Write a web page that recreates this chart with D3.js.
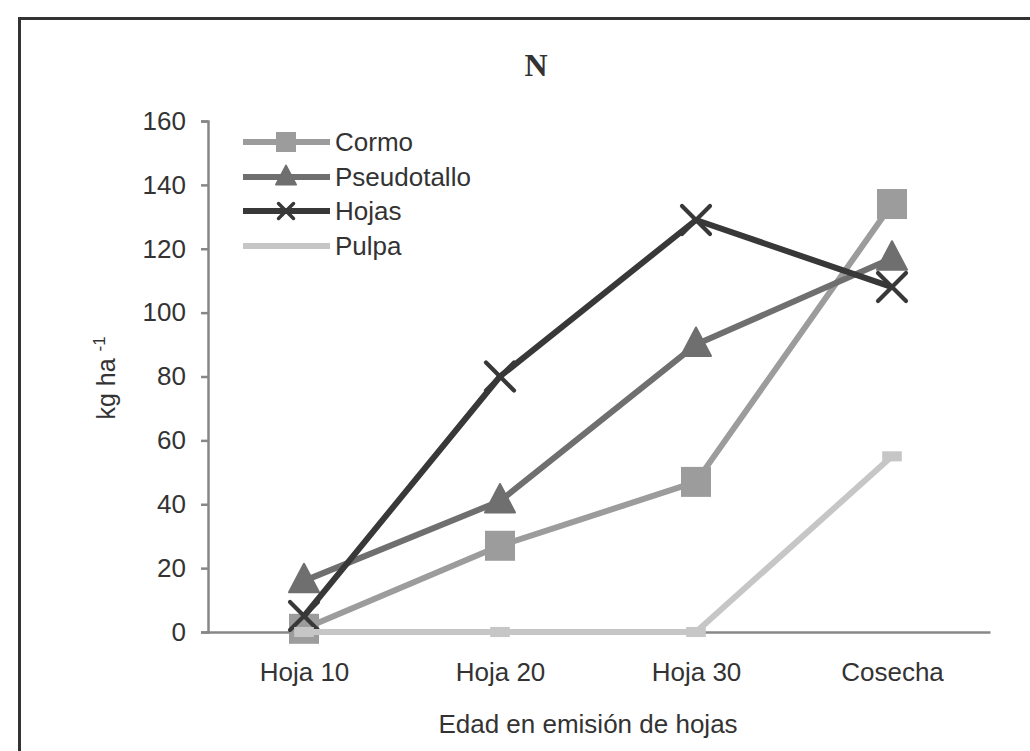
<!DOCTYPE html>
<html>
<head>
<meta charset="utf-8">
<script src="https://cdn.jsdelivr.net/npm/d3@7/dist/d3.min.js"></script>
<style>
  html, body { margin: 0; padding: 0; background: #fff; }
  svg { display: block; }
  text { font-family: "Liberation Sans", Arial, Helvetica, sans-serif; fill: #333; }
</style>
</head>
<body>
<svg id="chart" width="1030" height="751"></svg>
<script>
// Nitrogen accumulation (kg ha-1) by plant organ and leaf-emission stage
const categories = ["Hoja 10", "Hoja 20", "Hoja 30", "Cosecha"];
const cormo       = [1, 27, 47, 134];
const pseudotallo = [16, 41, 90, 117];
const hojas       = [5, 80, 129, 108];
const pulpa       = [0, 0, 0, 55];
const yTicks      = [0, 20, 40, 60, 80, 100, 120, 140, 160];
const seriesNames = ["Cormo", "Pseudotallo", "Hojas", "Pulpa"];

const series = [
  { name: seriesNames[0], values: cormo,       color: "#9c9c9c", marker: "square" },
  { name: seriesNames[1], values: pseudotallo, color: "#6f6f6f", marker: "triangle" },
  { name: seriesNames[2], values: hojas,       color: "#383838", marker: "cross" },
  { name: seriesNames[3], values: pulpa,       color: "#c6c6c6", marker: "dash" }
];

const svg = d3.select("#chart");

// outer frame (runs past the right and bottom edges)
svg.append("rect")
  .attr("x", 19.5).attr("y", 18.5)
  .attr("width", 1100).attr("height", 900)
  .attr("fill", "none").attr("stroke", "#333").attr("stroke-width", 3);

const x = d3.scalePoint().domain(categories).range([206, 990]).padding(0.5);
const y = d3.scaleLinear().domain([0, 160]).range([632, 121]);

const axisColor = "#878787";

// y axis
const yAxis = svg.append("g")
  .attr("transform", "translate(208,0)")
  .call(d3.axisLeft(y).tickValues(yTicks).tickSize(7).tickPadding(15));
yAxis.select(".domain").attr("stroke", axisColor).attr("stroke-width", 2.5);
yAxis.selectAll(".tick line").attr("stroke", axisColor).attr("stroke-width", 2.5);
yAxis.selectAll(".tick text")
  .style("font-size", "26px").attr("fill", "#333");

// x axis (line + labels, no tick marks)
const xAxis = svg.append("g")
  .attr("transform", "translate(0,632)")
  .call(d3.axisBottom(x).tickSize(0).tickPadding(31).tickSizeOuter(0));
xAxis.select(".domain").attr("stroke", axisColor).attr("stroke-width", 2.5);
xAxis.selectAll(".tick text")
  .style("font-size", "26px").attr("fill", "#333");

// title
svg.append("text")
  .attr("x", 536).attr("y", 76)
  .attr("text-anchor", "middle")
  .style("font-family", "'Liberation Serif', 'Times New Roman', serif")
  .style("font-weight", "bold").style("font-size", "32px")
  .attr("fill", "#111")
  .text("N");

// axis titles
svg.append("text")
  .attr("x", 588).attr("y", 733)
  .attr("text-anchor", "middle")
  .style("font-size", "26px")
  .text("Edad en emisión de hojas");

const yLab = svg.append("text")
  .attr("transform", "translate(115,378) rotate(-90)")
  .attr("text-anchor", "middle")
  .style("font-size", "25px");
yLab.append("tspan").text("kg ha ");
yLab.append("tspan").attr("dy", -10).style("font-size", "17px").text("-1");

// marker drawing
function drawMarker(g, type, cx, cy, color, s) {
  if (type === "square") {
    g.append("rect")
      .attr("x", cx - s / 2).attr("y", cy - s / 2)
      .attr("width", s).attr("height", s)
      .attr("fill", color);
  } else if (type === "triangle") {
    const h = s * 0.95;
    g.append("path")
      .attr("d", `M${cx},${cy - h * 0.6} L${cx + s / 2},${cy + h * 0.4} L${cx - s / 2},${cy + h * 0.4} Z`)
      .attr("fill", color).attr("stroke", color)
      .attr("stroke-width", 2).attr("stroke-linejoin", "round");
  } else if (type === "cross") {
    const r = s / 2;
    g.append("path")
      .attr("d", `M${cx - r},${cy - r} L${cx + r},${cy + r} M${cx - r},${cy + r} L${cx + r},${cy - r}`)
      .attr("stroke", color).attr("stroke-width", Math.max(3.5, s * 0.15))
      .attr("stroke-linecap", "round").attr("fill", "none");
  } else if (type === "dash") {
    g.append("rect")
      .attr("x", cx - s * 0.35).attr("y", cy - s * 0.18)
      .attr("width", s * 0.7).attr("height", s * 0.36)
      .attr("fill", color);
  }
}

const line = d3.line()
  .x((d, i) => x(categories[i]))
  .y(d => y(d));

const plot = svg.append("g");
series.forEach(s => {
  const g = plot.append("g");
  g.append("path")
    .datum(s.values)
    .attr("d", line)
    .attr("fill", "none")
    .attr("stroke", s.color)
    .attr("stroke-width", 6)
    .attr("stroke-linejoin", "round");
  s.values.forEach((v, i) => {
    const size = s.marker === "dash" ? 28 : (s.marker === "cross" ? 28 : 30);
    drawMarker(g, s.marker, x(categories[i]), y(v), s.color, size);
  });
});

// legend
const legend = svg.append("g");
const legY = [142, 177, 211, 246];
series.forEach((s, i) => {
  const ly = legY[i];
  legend.append("line")
    .attr("x1", 243).attr("x2", 330)
    .attr("y1", ly).attr("y2", ly)
    .attr("stroke", s.color).attr("stroke-width", 6);
  if (s.marker !== "dash") {
    drawMarker(legend, s.marker, 286, ly, s.color, s.marker === "cross" ? 15 : 20);
  }
  legend.append("text")
    .attr("x", 335).attr("y", ly + 9)
    .style("font-size", "26px")
    .text(s.name);
});
</script>
</body>
</html>
